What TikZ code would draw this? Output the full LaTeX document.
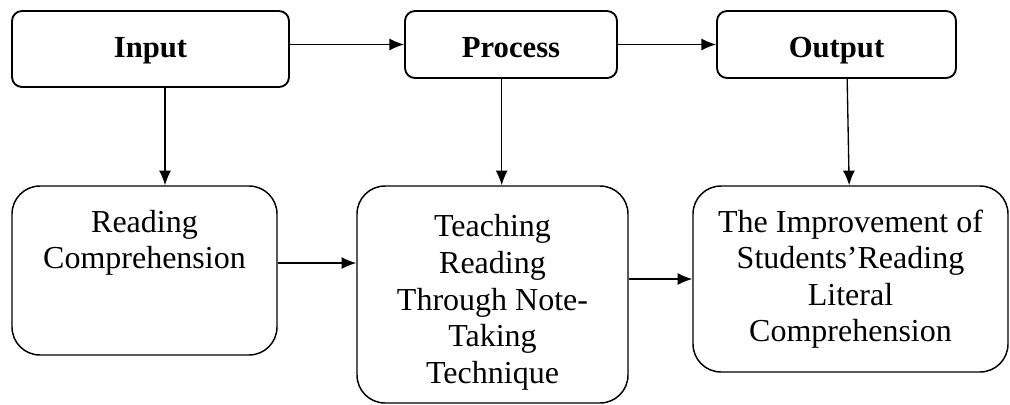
\documentclass[tikz,border=0pt]{standalone}
\usepackage{fontspec}
\setmainfont{Liberation Serif}
\usetikzlibrary{arrows.meta,positioning}

\begin{document}
\begin{tikzpicture}[
    x=0.75pt, y=-0.75pt,
    >={Latex[length=11pt,width=9pt]},
    font=\fontsize{24}{27.4}\selectfont,
    headbox/.style={
		rectangle,
		rounded corners=7.5pt,
		draw=black,
		line width=1.4pt,
		inner sep=0pt,
		text centered,
		text height=22pt,
		text depth=3.25pt,
		font=\fontsize{23}{27}\selectfont\bfseries
	},
	stagebox/.style={
		rectangle,
		rounded corners=21pt,
		draw=black,
		line width=1.1pt,
		inner sep=0pt,
		align=center
	},
	link/.style={
		->,
		line width=1pt
	}
  ]
  \useasboundingbox (0,0) rectangle (1010,404);

  % top row
  \node [headbox, minimum width=207.75pt, minimum height=57pt, text depth=10pt] (input) at (150.5,49) {Input};
  \node [headbox, minimum width=159pt, minimum height=50.25pt] (process) at (511,44.5) {Process};
  \node [headbox, minimum width=179.25pt, minimum height=50.25pt] (output) at (836.5,44.5) {Output};

  % bottom row
  \node [stagebox, minimum width=198.75pt, minimum height=126.75pt, text depth=47pt] (reading) at (144.5,270.5)
 {Reading\\Comprehension};
  \node [stagebox, minimum width=203.25pt, minimum height=162.75pt, text height=138pt] (teaching) at (492.5,294.5)
 {Teaching\\Reading\\Through Note-\\Taking\\Technique};
  \node [stagebox, minimum width=236.25pt, minimum height=139.5pt] (improve) at (850.5,279)
 {The Improvement of\\Students’Reading\\Literal\\Comprehension};

  \draw [link] (input.east |- process.west) -- (process.west);
  \draw [link] (process) -- (output);
  \draw [link] ([xshift=10.9pt]input.south) -- ([xshift=10.9pt]input.south |- reading.north);
  \draw [link] ([xshift=-7pt]process.south) -- ([xshift=-7pt]process.south |- teaching.north);
  \draw [link] ([xshift=8pt]output.south) -- ([xshift=-1pt]improve.north);
  \draw [link] ([yshift=5.6pt]reading.east) -- ([yshift=5.6pt]reading.east -| teaching.west);
  \draw [link] (teaching.east |- improve.west) -- (improve.west);

\end{tikzpicture}
\end{document}
